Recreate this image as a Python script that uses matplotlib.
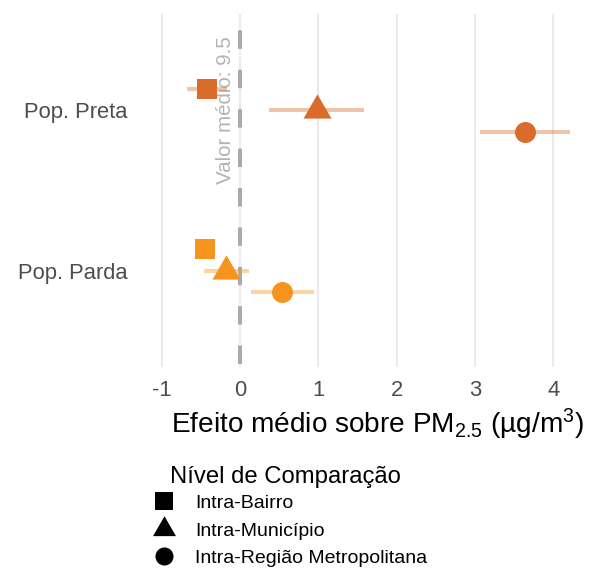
import matplotlib
matplotlib.use("Agg")
import matplotlib.pyplot as plt
from matplotlib.lines import Line2D
import numpy as np

plt.rcParams['font.family'] = ['Liberation Sans', 'DejaVu Sans']
plt.rcParams['mathtext.fontset'] = 'custom'
plt.rcParams['mathtext.rm'] = 'Liberation Sans'
plt.rcParams['mathtext.it'] = 'Liberation Sans:italic'
plt.rcParams['mathtext.bf'] = 'Liberation Sans:bold'

# ---- data ----
groups = ["Pop. Parda", "Pop. Preta"]
levels = ["Intra-Bairro", "Intra-Município", "Intra-Região Metropolitana"]
preta_est = [-0.42, 0.98, 3.64]
preta_lo = [-0.68, 0.37, 3.07]
preta_hi = [-0.17, 1.58, 4.21]
parda_est = [-0.45, -0.175, 0.54]
parda_lo = [-0.55, -0.46, 0.14]
parda_hi = [-0.35, 0.115, 0.94]
xticks = [-1, 0, 1, 2, 3, 4]
ref_label = "Valor médio: 9.5"

# ---- style ----
col_preta = "#D96C2B"
col_parda = "#F7941E"
dodge = [0.135, 0.0, -0.135]

tri = [(0, 0.577), (-0.5, -0.2887), (0.5, -0.2887), (0, 0.577)]
markers = ['s', tri, 'o']
msizes = [15.1, 23.3, 15.1]

W, H = 595, 571
fig = plt.figure(figsize=(W / 100, H / 100), dpi=100)
L, R, T, B = 150, 590, 14, 367
ax = fig.add_axes([L / W, 1 - B / H, (R - L) / W, (B - T) / H])
x0 = 240.0
ppu = 78.3
ax.set_xlim((L - x0) / ppu, (R - x0) / ppu)
ax.set_ylim(0.4, 2.6)
for s in ax.spines.values():
    s.set_visible(False)

ax.set_xticks(xticks)
ax.set_xticklabels([str(t) for t in xticks])
ax.set_yticks([1, 2])
ax.set_yticklabels(groups)
ax.tick_params(axis='both', length=0, labelsize=15.8, colors='#4D4D4D')
ax.tick_params(axis='x', pad=9.0)
ax.tick_params(axis='y', pad=16)
ax.grid(axis='x', color='#EBEBEB', lw=1.5)
ax.grid(axis='y', visible=False)
ax.set_axisbelow(True)

ax.plot([0, 0], [2.6, 0.4], color='#AAAAAA', lw=2.88, dash_capstyle='butt',
        linestyle=(5.75, (4.6, 5.25)), zorder=2)

ax.text(-0.18, 2.0, ref_label, rotation=90, ha='center', va='center',
        fontsize=14.8, color='#B3B3B3', zorder=3)

for yc, est, lo, hi, col in [(2, preta_est, preta_lo, preta_hi, col_preta),
                             (1, parda_est, parda_lo, parda_hi, col_parda)]:
    for i in range(3):
        y = yc + dodge[i]
        ax.plot([lo[i], hi[i]], [y, y], color=col, alpha=0.4, lw=2.9,
                solid_capstyle='butt', zorder=3)
        ax.plot([est[i]], [y], marker=markers[i], ms=msizes[i], color=col,
                mew=0, ls='', zorder=4)

ax.set_xlabel('Efeito médio sobre PM$_{2.5}$ (µg/m$^{3}$)', fontsize=20.2, color='black')
ax.xaxis.set_label_coords((377 - L) / (R - L), (B - 433) / (B - T))
ax.xaxis.label.set_va('baseline')

fig.text(170 / W, 1 - 483.5 / H, "Nível de Comparação", fontsize=17.2,
         ha='left', va='baseline', color='black')

handles = [Line2D([], [], marker='s', ms=13, color='black', ls='', mew=0),
           Line2D([], [], marker=tri, ms=19.1, color='black', ls='', mew=0),
           Line2D([], [], marker='o', ms=13, color='black', ls='', mew=0)]
fig.legend(handles, levels, loc='upper left', bbox_to_anchor=(154.3 / W, 1 - 494.6 / H),
           frameon=False, fontsize=14, handlelength=1.0, handletextpad=1.1,
           labelspacing=0.5, borderpad=0, borderaxespad=0)

fig.savefig("out.png", dpi=100)
